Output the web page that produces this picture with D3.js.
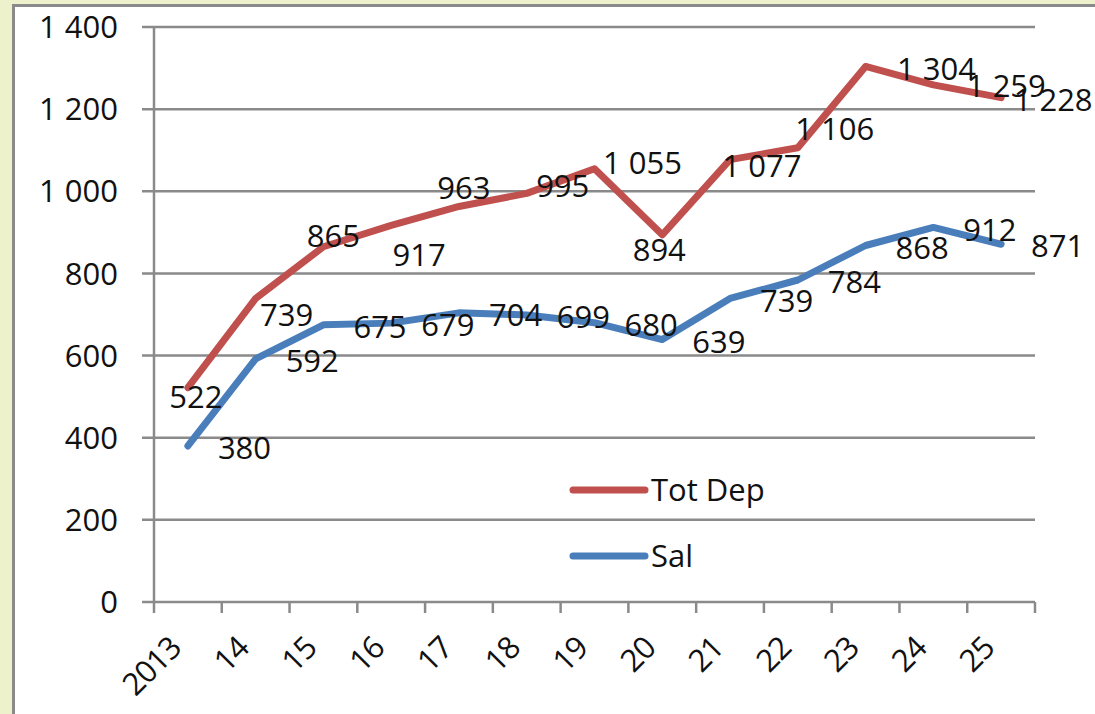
<!DOCTYPE html>
<html>
<head>
<meta charset="utf-8">
<script src="https://cdn.jsdelivr.net/npm/d3@7"></script>
<style>
	body { margin: 0; background: #eef2cc; }
	svg { display: block; }
	text { font-family: "Open Sans", sans-serif; fill: #111; }
</style>
</head>
<body>
<svg id="chart" width="1095" height="714"></svg>
<script>
// chart data
let years = ["2013", "14", "15", "16", "17", "18", "19", "20", "21", "22", "23", "24", "25"];
let totDep = [522, 739, 865, 917, 963, 995, 1055, 894, 1077, 1106, 1304, 1259, 1228];
let sal = [380, 592, 675, 679, 704, 699, 680, 639, 739, 784, 868, 912, 871];
let yTicks = [0, 200, 400, 600, 800, 1000, 1200, 1400];

// where the Tot Dep labels sit relative to their point (they were moved by hand)
let depLabelNudge = [[8, 9], [31, 16], [10, -11], [28, 29], [5, -19], [36, -7], [48, -6],
	[-3, 15], [32, 6], [37, -19], [71, 2], [73, 1], [52, 2]];

let svg = d3.select("#chart");
let fmt = function(v) { return d3.format(",")(v).replace(/,/g, " "); };

// white chart area with its grey frame
svg.append("rect")
	.attr("x", 13.5).attr("y", 5.5)
	.attr("width", 1100).attr("height", 720)
	.attr("fill", "#fff")
	.attr("stroke", "#8a8a8a")
	.attr("stroke-width", 3);

let x = d3.scaleBand().domain(years).range([154, 1035]);
let y = d3.scaleLinear().domain([0, 1400]).range([602, 27]);
let cx = function(d, i) { return x(years[i]) + x.bandwidth() / 2; };

// gridlines + y ticks
svg.append("g")
	.selectAll("line")
	.data(yTicks)
	.enter().append("line")
	.attr("x1", 142).attr("x2", 1035)
	.attr("y1", function(d) { return y(d); })
	.attr("y2", function(d) { return y(d); })
	.attr("stroke", "#8a8a8a")
	.attr("stroke-width", 2.5);

svg.append("g")
	.selectAll("text")
	.data(yTicks)
	.enter().append("text")
	.attr("x", 118)
	.attr("y", function(d) { return y(d); })
	.attr("dy", "0.36em")
	.attr("text-anchor", "end")
	.style("font-size", "31px")
	.text(fmt);

// y axis line
svg.append("line")
	.attr("x1", 154).attr("x2", 154)
	.attr("y1", y(1400)).attr("y2", y(0))
	.attr("stroke", "#8a8a8a")
	.attr("stroke-width", 2.5);

// x ticks at category edges
let edges = years.map(function(d) { return x(d); }).concat([x.range()[1]]);
svg.append("g")
	.selectAll("line")
	.data(edges)
	.enter().append("line")
	.attr("x1", function(d) { return d; })
	.attr("x2", function(d) { return d; })
	.attr("y1", y(0)).attr("y2", y(0) + 11)
	.attr("stroke", "#8a8a8a")
	.attr("stroke-width", 2.5);

svg.append("g")
	.selectAll("text")
	.data(years)
	.enter().append("text")
	.attr("transform", function(d, i) {
		return "translate(" + (cx(d, i) - 5) + ",650) rotate(-45)";
	})
	.attr("text-anchor", "end")
	.style("font-size", "31px")
	.style("letter-spacing", "-1px")
	.text(function(d) { return d; });

// series lines
let line = d3.line()
	.x(function(d, i) { return cx(d, i); })
	.y(function(d) { return y(d); });

let series = [
	{ name: "Tot Dep", values: totDep, color: "#c0504d" },
	{ name: "Sal", values: sal, color: "#4a7ebb" }
];

series.forEach(function(s) {
	svg.append("path")
		.datum(s.values)
		.attr("d", line)
		.attr("fill", "none")
		.attr("stroke", s.color)
		.attr("stroke-width", 7)
		.attr("stroke-linejoin", "round")
		.attr("stroke-linecap", "round");
});

// data labels
svg.append("g")
	.selectAll("text")
	.data(totDep)
	.enter().append("text")
	.attr("x", function(d, i) { return cx(d, i) + depLabelNudge[i][0]; })
	.attr("y", function(d, i) { return y(d) + depLabelNudge[i][1]; })
	.attr("dy", "0.36em")
	.attr("text-anchor", "middle")
	.style("font-size", "31px")
	.text(fmt);

svg.append("g")
	.selectAll("text")
	.data(sal)
	.enter().append("text")
	.attr("x", function(d, i) { return cx(d, i) + 30; })
	.attr("y", function(d) { return y(d) + 2; })
	.attr("dy", "0.36em")
	.style("font-size", "31px")
	.text(fmt);

// legend
let legend = svg.append("g")
	.selectAll("g")
	.data(series)
	.enter().append("g")
	.attr("transform", function(d, i) { return "translate(570," + (490 + i * 66) + ")"; });

legend.append("line")
	.attr("x1", 3).attr("x2", 75)
	.attr("stroke", function(d) { return d.color; })
	.attr("stroke-width", 7)
	.attr("stroke-linecap", "round");

legend.append("text")
	.attr("x", 81)
	.attr("dy", "0.36em")
	.style("font-size", "31px")
	.text(function(d) { return d.name; });
</script>
</body>
</html>
